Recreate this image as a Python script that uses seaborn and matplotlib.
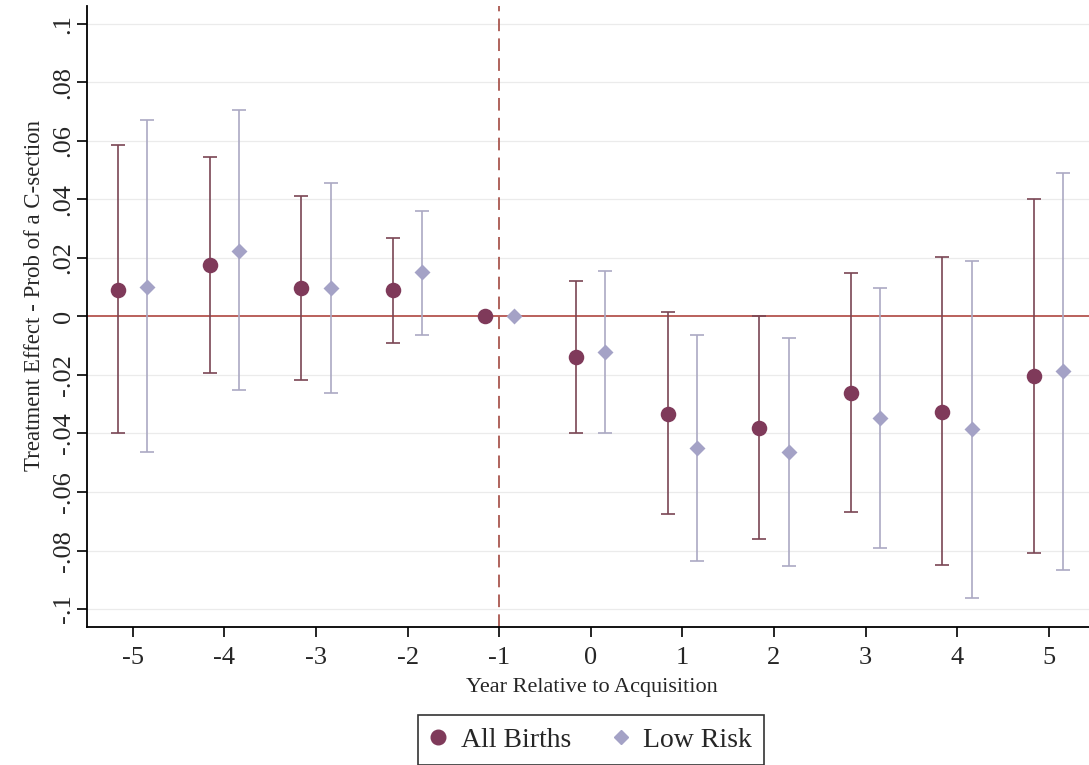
import numpy as np
import pandas as pd
import matplotlib
matplotlib.use("Agg")
import matplotlib.pyplot as plt
import seaborn as sns
from matplotlib.lines import Line2D

years = [-5, -4, -3, -2, -1, 0, 1, 2, 3, 4, 5]
ab_est = [0.0090, 0.0174, 0.0096, 0.0089, 0.0, -0.0139, -0.0333, -0.0382, -0.0260, -0.0325, -0.0205]
ab_lo = [-0.0399, -0.0193, -0.0216, -0.0090, np.nan, -0.0399, -0.0674, -0.0761, -0.0669, -0.0848, -0.0808]
ab_hi = [0.0584, 0.0546, 0.0413, 0.0269, np.nan, 0.0120, 0.0014, 0.0000, 0.0149, 0.0202, 0.0402]
lr_est = [0.0100, 0.0222, 0.0097, 0.0150, 0.0, -0.0122, -0.0449, -0.0464, -0.0346, -0.0385, -0.0188]
lr_lo = [-0.0462, -0.0251, -0.0262, -0.0062, np.nan, -0.0399, -0.0836, -0.0853, -0.0790, -0.0963, -0.0865]
lr_hi = [0.0672, 0.0706, 0.0455, 0.0361, np.nan, 0.0156, -0.0063, -0.0074, 0.0098, 0.0189, 0.0489]
series_names = ["All Births", "Low Risk"]
yticks = [-0.1, -0.08, -0.06, -0.04, -0.02, 0, 0.02, 0.04, 0.06, 0.08, 0.1]
ytick_labels = ["-.1", "-.08", "-.06", "-.04", "-.02", "0", ".02", ".04", ".06", ".08", ".1"]

sns.set_theme(style="white")
plt.rcParams["font.family"] = ["Liberation Serif", "DejaVu Serif"]

offset = 0.16
df = pd.DataFrame({
    "x": [y - offset for y in years] + [y + offset for y in years],
    "est": ab_est + lr_est,
    "lo": ab_lo + lr_lo,
    "hi": ab_hi + lr_hi,
    "series": [series_names[0]] * len(years) + [series_names[1]] * len(years),
})

mk_col = {"All Births": "#7F3A5A", "Low Risk": "#A4A2C6"}
eb_col = {"All Births": "#7A4654", "Low Risk": "#ABA9C3"}
markers = {"All Births": "o", "Low Risk": "D"}
sizes = {"All Births": 125, "Low Risk": 66}

fig = plt.figure(figsize=(10.89, 7.65), dpi=100)
ax = fig.add_axes([0.0799, 0.1808, 0.9201, 0.8112])

for y in yticks:
    if y != 0:
        ax.axhline(y, color="#EBEBEB", lw=0.9, zorder=0)
ax.axhline(0, color="#B4544E", lw=1.3, zorder=1)
ax.axvline(-1, color="#A9574F", lw=1.3, dashes=(7, 4), zorder=1)

for name in series_names:
    d = df[df["series"] == name]
    ax.errorbar(d["x"], d["est"],
                yerr=[d["est"] - d["lo"], d["hi"] - d["est"]],
                fmt="none", ecolor=eb_col[name], elinewidth=1.2,
                capsize=5, capthick=1.2, zorder=2)
    sns.scatterplot(data=d, x="x", y="est", ax=ax, color=mk_col[name],
                    marker=markers[name], s=sizes[name], linewidth=0,
                    zorder=3, legend=False)

ax.set_xlim(-5.5, 5.44)
ax.set_ylim(-0.106, 0.106)
ax.set_xticks(years)
ax.set_xticklabels([str(y) for y in years], fontsize=19)
ax.set_yticks(yticks)
ax.set_yticklabels(ytick_labels, fontsize=19, rotation=90, va="center")
ax.tick_params(axis="both", direction="out", length=7.5, width=1.2, color="black")
ax.tick_params(axis="x", bottom=True, pad=7)
ax.tick_params(axis="y", left=True, pad=1.5)
for s in ["top", "right"]:
    ax.spines[s].set_visible(False)
for s in ["left", "bottom"]:
    ax.spines[s].set_color("black")
    ax.spines[s].set_linewidth(1.3)

ax.set_xlabel("Year Relative to Acquisition", fontsize=16)
ax.set_ylabel("Treatment Effect - Prob of a C-section", fontsize=16.5)
ax.xaxis.set_label_coords(0.5035, -0.083)
ax.yaxis.set_label_coords(-0.042, 0.533)

handles = [Line2D([], [], ls="none", marker="o", markersize=10.5, color=mk_col["All Births"]),
           Line2D([], [], ls="none", marker="D", markersize=7, color=mk_col["Low Risk"])]
leg = fig.legend(handles, series_names, loc="upper center", bbox_to_anchor=(0.5427, 0.0654),
                 ncol=2, fontsize=20, frameon=True, fancybox=False, edgecolor="black",
                 handlelength=0.6, handletextpad=0.5, columnspacing=1.5, borderpad=0.45,
                 borderaxespad=0)
leg.get_frame().set_linewidth(1.2)

fig.savefig("out.png", dpi=100)
